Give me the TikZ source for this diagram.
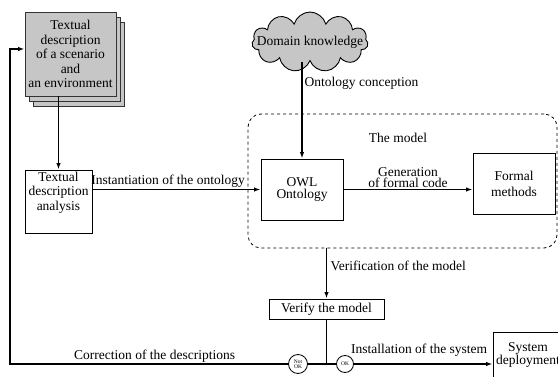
\documentclass[tikz,border=0pt]{standalone}
\usepackage{fontspec}
\setmainfont{Liberation Serif}
\usepackage{tikz}
\usetikzlibrary{arrows.meta, positioning, shapes.symbols, shadows}

\begin{document}
\begin{tikzpicture}[x=1pt, y=-1pt, font=\fontsize{13.5}{14.5}\selectfont,
    box/.style={draw, line width=0.9pt, fill=white, align=center, inner sep=1pt},
    sheet/.style={fill=gray!45, draw=black!80, line width=0.9pt},
    flow/.style={line width=1.4pt, -{Latex[length=6.5pt, width=4.5pt]}},
    link/.style={line width=1.4pt},
    okmark/.style={circle, draw, line width=0.8pt, fill=white, inner sep=0pt,
      minimum size=19pt, align=center, font=\fontsize{5.5}{5.5}\selectfont}]
  \useasboundingbox (0,0) rectangle (558,377);

  % the model (dashed frame)
  \node[draw, dashed, rounded corners=13pt, line width=0.8pt,
        minimum width=309, minimum height=134] (model) at (402.5,181) {};
  \node (mtitle) at (398,138) {The model};

  % input texts and knowledge
  \node[box, sheet, minimum width=91, minimum height=84,
        copy shadow={sheet, shadow xshift=8pt, shadow yshift=-10pt},
        copy shadow={sheet, shadow xshift=4pt, shadow yshift=-5pt}]
        (desc) at (70.5,54) {Textual\\description\\of a scenario\\and\\an environment};
  \node[cloud, cloud puffs=11, cloud ignores aspect, draw, line width=0.9pt,
        fill=gray!45, minimum width=116, minimum height=60] (dk) at (310,42) {};
  \node (dktext) at (dk) {Domain knowledge};

  % boxes
  \node[box, minimum width=67, minimum height=63, text depth=21pt] (ana) at (58.5,201.5)
        {Textual\\description\\analysis};
  \node[box, minimum width=82, minimum height=61, font=\fontsize{13.5}{12}\selectfont]
        (owl) at (302,189.5) {OWL\\Ontology};
  \node[box, minimum width=82, minimum height=61, font=\fontsize{13.5}{16}\selectfont]
        (fm) at (514,183.5) {Formal\\methods};
  \node[box, minimum width=115, minimum height=20, inner sep=0pt] (vrf) at (326.5,309)
        {Verify the model};
  \node[box, minimum width=70, minimum height=46, font=\fontsize{13.5}{13}\selectfont]
        (sys) at (528,355) {System\\deployment};

  % verdicts
  \node[okmark] (nok) at (298,364) {Not\\OK};
  \node[okmark, minimum size=17pt] (ok) at (345,364) {OK};

  \coordinate (jn) at (vrf |- nok);
  \coordinate (back) at (10,364);
  \coordinate (backtop) at (10,49);

  % connectors
  \draw[flow] (ana |- desc.south) -- (ana.north);
  \draw[flow] (ana.east |- owl) -- node[above, pos=0.45, inner sep=1.5pt]
        {Instantiation of the ontology} (owl.west);
  \draw[flow] (owl.east) -- node[above, align=center, inner sep=1.5pt,
        font=\fontsize{13.5}{11}\selectfont] {Generation\\of formal code} (owl.east -| fm.west);
  \draw[flow] (owl |- dk.south) -- node[right, pos=0.22, inner sep=2pt]
        {Ontology conception} (owl.north);
  \draw[flow] (vrf |- model.south) -- node[right, pos=0.35]
        {Verification of the model} (vrf.north);
  \draw[link] (vrf.south) -- (jn);
  \draw[link] (jn) -- (nok);
  \draw[link] (jn) -- (ok);
  \draw[flow] (ok) -- node[above, pos=0.47, inner sep=1pt, yshift=6pt]
        {Installation of the system} (ok -| sys.west);
  \draw[flow] (nok) -- node[above, pos=0.48, inner sep=1pt]
        {Correction of the descriptions} (back) -- (backtop) -- (backtop -| desc.west);
\end{tikzpicture}
\end{document}
